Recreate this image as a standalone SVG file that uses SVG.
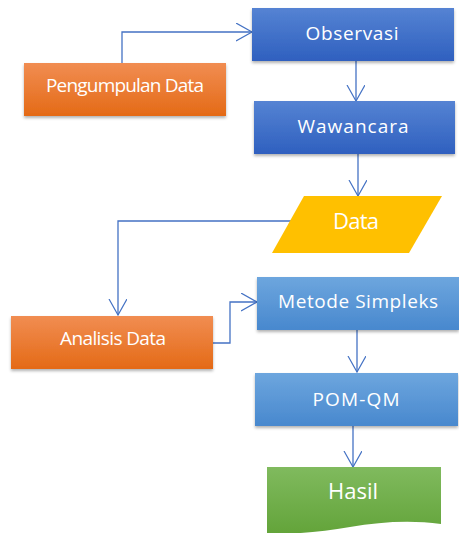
<svg xmlns="http://www.w3.org/2000/svg" width="459" height="533" viewBox="0 0 459 533">
<defs>
<linearGradient id="gOr" x1="0" y1="0" x2="0" y2="1"><stop offset="0" stop-color="#F18D52"/><stop offset="1" stop-color="#E46A16"/></linearGradient>
<linearGradient id="gDb" x1="0" y1="0" x2="0" y2="1"><stop offset="0" stop-color="#5583D3"/><stop offset="1" stop-color="#2F60BF"/></linearGradient>
<linearGradient id="gLb" x1="0" y1="0" x2="0" y2="1"><stop offset="0" stop-color="#6DA6DE"/><stop offset="1" stop-color="#4888CE"/></linearGradient>
<linearGradient id="gGr" x1="0" y1="0" x2="0" y2="1"><stop offset="0" stop-color="#80BA5E"/><stop offset="1" stop-color="#63A43A"/></linearGradient>
<filter id="sh" x="-10%" y="-10%" width="120%" height="130%"><feDropShadow dx="0" dy="2" stdDeviation="1.5" flood-color="#000" flood-opacity="0.3"/></filter>
<marker id="ar" markerWidth="20" markerHeight="20" refX="16" refY="9" orient="auto" markerUnits="userSpaceOnUse"><path d="M0,0 L16,9 L0,18" fill="none" stroke="#4472C4" stroke-width="1.2"/></marker>
</defs>
<style>
.t{font-family:"Open Sans","Liberation Sans",Arial,sans-serif;font-size:19px;fill:#fff;text-anchor:middle}
.b{font-size:22px}
.c{fill:none;stroke:#4472C4;stroke-width:1.3;marker-end:url(#ar)}
</style>
<g id="connectors">
<path class="c" d="M122,63 V32 H252"/>
<path class="c" d="M356,61 V101"/>
<path class="c" d="M358,154 V196"/>
<path class="c" d="M291,221 H118 V315"/>
<path class="c" d="M213,343 H230 V302 H257"/>
<path class="c" d="M357,330 V372"/>
<path class="c" d="M353,426 V467"/>
</g>
<g id="observasi"><rect x="252" y="8" width="202" height="53" fill="url(#gDb)" filter="url(#sh)"/><text class="t" x="352" y="40" textLength="93" lengthAdjust="spacing">Observasi</text></g>
<g id="pengumpulan"><rect x="24" y="63" width="202" height="53" fill="url(#gOr)" filter="url(#sh)"/><text class="t" x="125" y="92" textLength="158" lengthAdjust="spacing">Pengumpulan Data</text></g>
<g id="wawancara"><rect x="254" y="101" width="201" height="53" fill="url(#gDb)" filter="url(#sh)"/><text class="t" x="353" y="133" textLength="111" lengthAdjust="spacing">Wawancara</text></g>
<g id="data"><polygon points="304,196 442,196 409,253 272,253" fill="#FFC000"/><text class="t b" x="356" y="229" textLength="46" lengthAdjust="spacing">Data</text></g>
<g id="metode"><rect x="257" y="277" width="202" height="53" fill="url(#gLb)" filter="url(#sh)"/><text class="t" x="358" y="308" textLength="160" lengthAdjust="spacing">Metode Simpleks</text></g>
<g id="analisis"><rect x="11" y="316" width="202" height="53" fill="url(#gOr)" filter="url(#sh)"/><text class="t" x="113" y="345" textLength="106" lengthAdjust="spacing">Analisis Data</text></g>
<g id="pomqm"><rect x="255" y="373" width="203" height="53" fill="url(#gLb)" filter="url(#sh)"/><text class="t" x="356" y="406" textLength="87" lengthAdjust="spacing">POM-QM</text></g>
<g id="hasil"><path d="M267,467 H441 V524 C410,520 380,522 350,527 C320,532 290,535 267,533 Z" fill="url(#gGr)"/><text class="t b" x="353" y="499" textLength="50" lengthAdjust="spacing">Hasil</text></g>
</svg>
